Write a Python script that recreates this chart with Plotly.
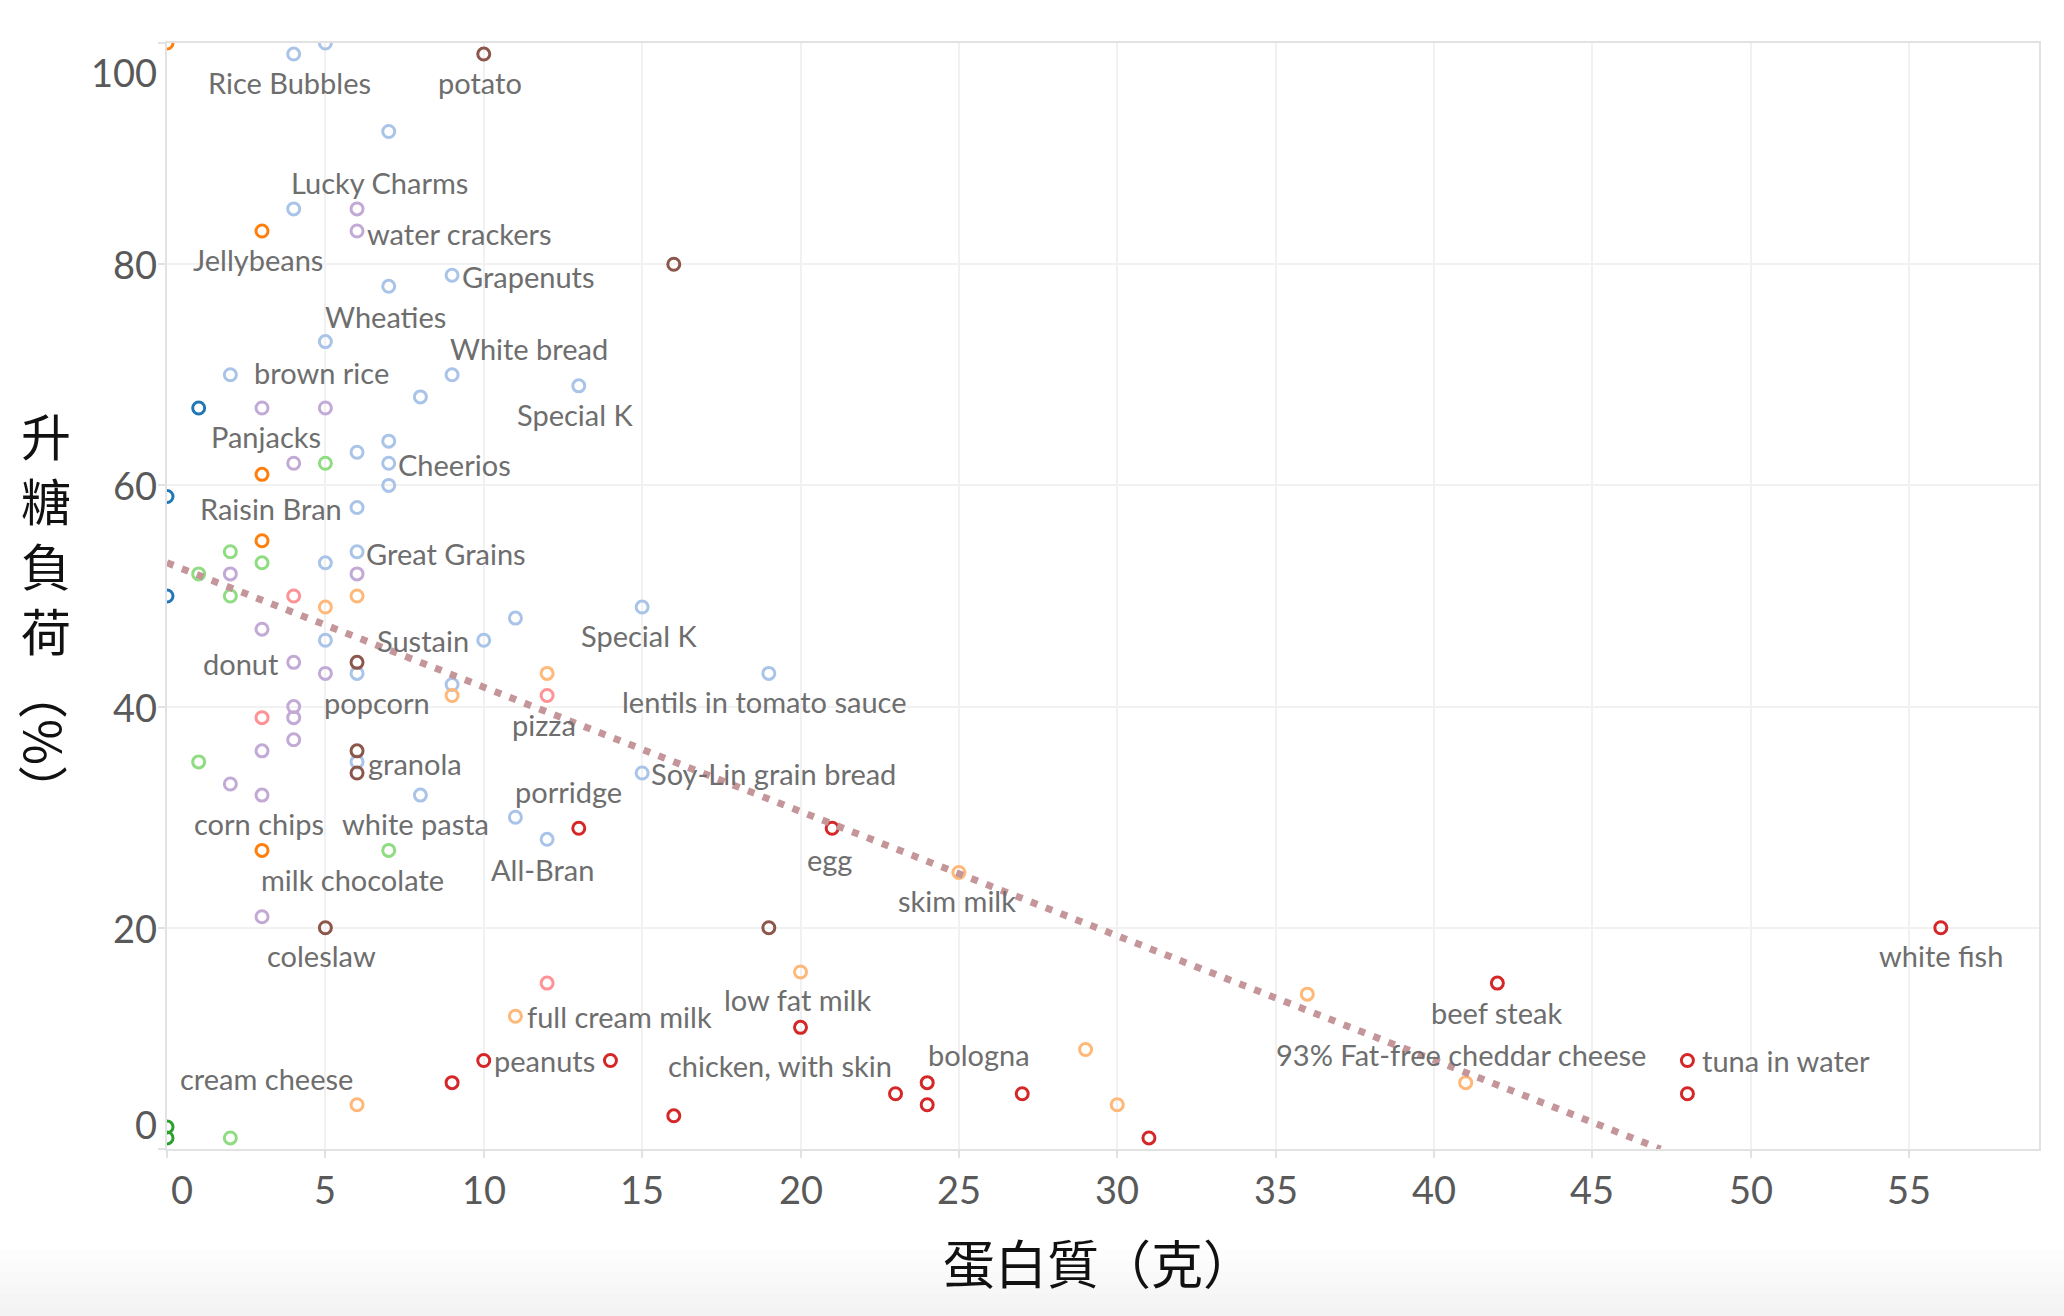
import plotly.graph_objects as go

# ---------------- data ----------------
cereal_x = [4, 5, 7, 4, 9, 7, 5, 2, 9, 13, 8, 7, 6, 7, 7, 6, 6, 5, 15, 11, 10, 5, 6, 19, 9, 6, 15, 8, 11, 12]
cereal_y = [99, 100, 92, 85, 79, 78, 73, 70, 70, 69, 68, 64, 63, 62, 60, 58, 54, 53, 49, 48, 46, 46, 43, 43, 42, 35, 34, 32, 30, 28]

darkblue_x = [1, 0, 0]
darkblue_y = [67, 59, 50]

orange_x = [0, 3, 3, 3, 3]
orange_y = [100, 83, 61, 55, 27]

lightorange_x = [6, 5, 12, 9, 25, 20, 36, 11, 29, 41, 6, 30]
lightorange_y = [50, 49, 43, 41, 25, 16, 14, 12, 9, 6, 4, 4]

green_x = [0, 0]
green_y = [2, 1]

lightgreen_x = [5, 2, 3, 1, 2, 1, 7, 2]
lightgreen_y = [62, 54, 53, 52, 50, 35, 27, 1]

red_x = [13, 21, 56, 42, 20, 10, 14, 48, 9, 24, 23, 27, 48, 24, 16, 31]
red_y = [29, 29, 20, 15, 11, 8, 8, 8, 6, 6, 5, 5, 5, 4, 3, 1]

lightred_x = [4, 12, 3, 12]
lightred_y = [50, 41, 39, 15]

purple_x = [6, 6, 3, 5, 4, 2, 6, 3, 4, 5, 4, 4, 4, 3, 2, 3, 3]
purple_y = [85, 83, 67, 67, 62, 52, 52, 47, 44, 43, 40, 39, 37, 36, 33, 32, 21]

brown_x = [10, 16, 6, 6, 6, 5, 19]
brown_y = [99, 80, 44, 36, 34, 20, 20]

# trend line end points
trend_x = [0, 47.15]
trend_y = [53, 0]

# point labels: text and the data position of each label's centre
label_text = ["Rice Bubbles", "potato", "Lucky Charms", "water crackers", "Jellybeans",
              "Grapenuts", "Wheaties", "White bread", "brown rice", "Special K",
              "Panjacks", "Cheerios", "Raisin Bran", "Great Grains", "Sustain",
              "Special K", "donut", "popcorn", "lentils in tomato sauce", "pizza",
              "granola", "Soy-Lin grain bread", "porridge", "corn chips", "white pasta",
              "egg", "All-Bran", "milk chocolate", "skim milk", "coleslaw",
              "white fish", "beef steak", "low fat milk", "full cream milk", "bologna",
              "93% Fat-free cheddar cheese", "peanuts", "tuna in water", "chicken, with skin", "cream cheese"]
label_x = [3.86, 9.87, 6.70, 9.22, 2.87,
           11.40, 6.90, 11.43, 4.88, 12.88,
           3.14, 9.07, 3.28, 8.82, 8.08,
           14.9, 2.35, 6.62, 18.85, 11.9,
           7.82, 19.16, 12.68, 2.89, 7.85,
           20.93, 11.85, 5.85, 24.93, 4.88,
           56.0, 41.97, 19.9, 14.3, 25.62,
           40.84, 11.93, 51.11, 19.36, 3.13]
label_y = [96.4, 96.4, 87.4, 82.8, 80.4,
           78.9, 75.3, 72.4, 70.25, 66.4,
           64.4, 61.9, 57.95, 53.8, 46.0,
           46.4, 43.9, 40.4, 40.47, 38.36,
           34.9, 33.99, 32.3, 29.4, 29.4,
           26.15, 25.3, 24.35, 22.5, 17.46,
           17.5, 12.38, 13.5, 11.98, 8.5,
           8.5, 8.0, 8.0, 7.55, 6.4]

x_ticks = [0, 5, 10, 15, 20, 25, 30, 35, 40, 45, 50, 55]
y_ticks = [0, 20, 40, 60, 80, 100]
x_title = "蛋白質（克）"
y_title_chars = ["升", "糖", "負", "荷"]
y_title_unit = "（%）"

# ---------------- layout geometry (pixels) ----------------
W, H = 2064, 1316
L, R, T, B = 167, 25, 43, 167
PW, PH = W - L - R, H - T - B


def px_x(px):
    return (px - L) / PW


def px_y(py):
    return (H - B - py) / PH


fig = go.Figure()

groups = [
    (cereal_x, cereal_y, "#a9c4e8"),
    (darkblue_x, darkblue_y, "#1f77b4"),
    (orange_x, orange_y, "#ff7f0e"),
    (lightorange_x, lightorange_y, "#ffb877"),
    (green_x, green_y, "#2ca02c"),
    (lightgreen_x, lightgreen_y, "#8fdc82"),
    (red_x, red_y, "#d62728"),
    (lightred_x, lightred_y, "#ff9294"),
    (purple_x, purple_y, "#c3aad6"),
    (brown_x, brown_y, "#8c564b"),
]
for gx, gy, col in groups:
    fig.add_trace(go.Scatter(
        x=gx, y=gy, mode="markers",
        marker=dict(symbol="circle-open", size=12, color=col, line=dict(width=3, color=col)),
        showlegend=False, hoverinfo="x+y"))

fig.add_trace(go.Scatter(
    x=trend_x, y=trend_y, mode="lines",
    line=dict(color="#c4969a", width=7, dash="7px,9px"),
    showlegend=False, hoverinfo="skip"))

ann = []
label_font = dict(family="Lato, 'Open Sans', sans-serif", size=29, color="#6e6e6e")
for t, lx, ly in zip(label_text, label_x, label_y):
    ann.append(dict(x=lx, y=ly, xref="x", yref="y", text=t, showarrow=False,
                    xanchor="center", yanchor="middle", font=label_font))

tick_font = dict(family="Lato, 'Open Sans', sans-serif", size=38, color="#595959")
for v in x_ticks:
    ann.append(dict(x=v, y=0, xref="x", yref="paper", text=str(v), showarrow=False,
                    xanchor="left" if v == x_ticks[0] else "center",
                    xshift=2 if v == x_ticks[0] else 0,
                    yanchor="middle", yshift=-40, font=tick_font))
for v in y_ticks:
    if v == y_ticks[0]:
        ya, ys = "bottom", 0
    elif v == y_ticks[-1]:
        ya, ys = "top", -4
    else:
        ya, ys = "middle", 0
    ann.append(dict(x=0, y=v, xref="paper", yref="y", text=str(v), showarrow=False,
                    xanchor="right", xshift=-8, yanchor=ya, yshift=ys, font=tick_font))

title_font = dict(family="'Noto Sans CJK TC', 'Noto Sans CJK SC', sans-serif", size=52, color="#111111")
ann.append(dict(x=px_x(1099), y=px_y(1261), xref="paper", yref="paper", text=x_title,
                showarrow=False, xanchor="center", yanchor="middle", font=title_font))
# vertical y title: upright characters stacked, unit rotated below them
ann.append(dict(x=px_x(46), y=px_y(531), xref="paper", yref="paper",
                text="<br>".join(y_title_chars), showarrow=False,
                xanchor="center", yanchor="middle",
                font=dict(family=title_font["family"], size=50, color="#111111")))
ann.append(dict(x=px_x(46), y=px_y(742), xref="paper", yref="paper", text=y_title_unit,
                showarrow=False, xanchor="center", yanchor="middle", textangle=90,
                font=dict(family=title_font["family"], size=50, color="#111111")))

# faint grey band at the very bottom of the picture
shapes = []
for k in range(6):
    top = 1250 + k * 11
    shapes.append(dict(type="rect", xref="paper", yref="paper",
                       x0=px_x(0), x1=px_x(W), y0=px_y(H), y1=px_y(top),
                       fillcolor="rgba(0,0,0,0.007)", line=dict(width=0), layer="below"))

fig.update_layout(
    width=W, height=H,
    margin=dict(l=L, r=R, t=T, b=B),
    paper_bgcolor="white", plot_bgcolor="white",
    annotations=ann, shapes=shapes,
    xaxis=dict(range=[0, 59.1], tickvals=x_ticks, showticklabels=False,
               showgrid=True, gridcolor="#f1f1f1", gridwidth=1.5, zeroline=False,
               showline=True, linecolor="#e2e2e2", linewidth=2, mirror=True,
               ticks="outside", ticklen=7, tickcolor="#e2e2e2", tickwidth=1.5),
    yaxis=dict(range=[0, 100], tickvals=y_ticks, showticklabels=False,
               showgrid=True, gridcolor="#f1f1f1", gridwidth=1.5, zeroline=False,
               showline=True, linecolor="#e2e2e2", linewidth=2, mirror=True,
               ticks="outside", ticklen=7, tickcolor="#e2e2e2", tickwidth=1.5),
    hovermode="closest",
)

fig.write_html("out.html")
